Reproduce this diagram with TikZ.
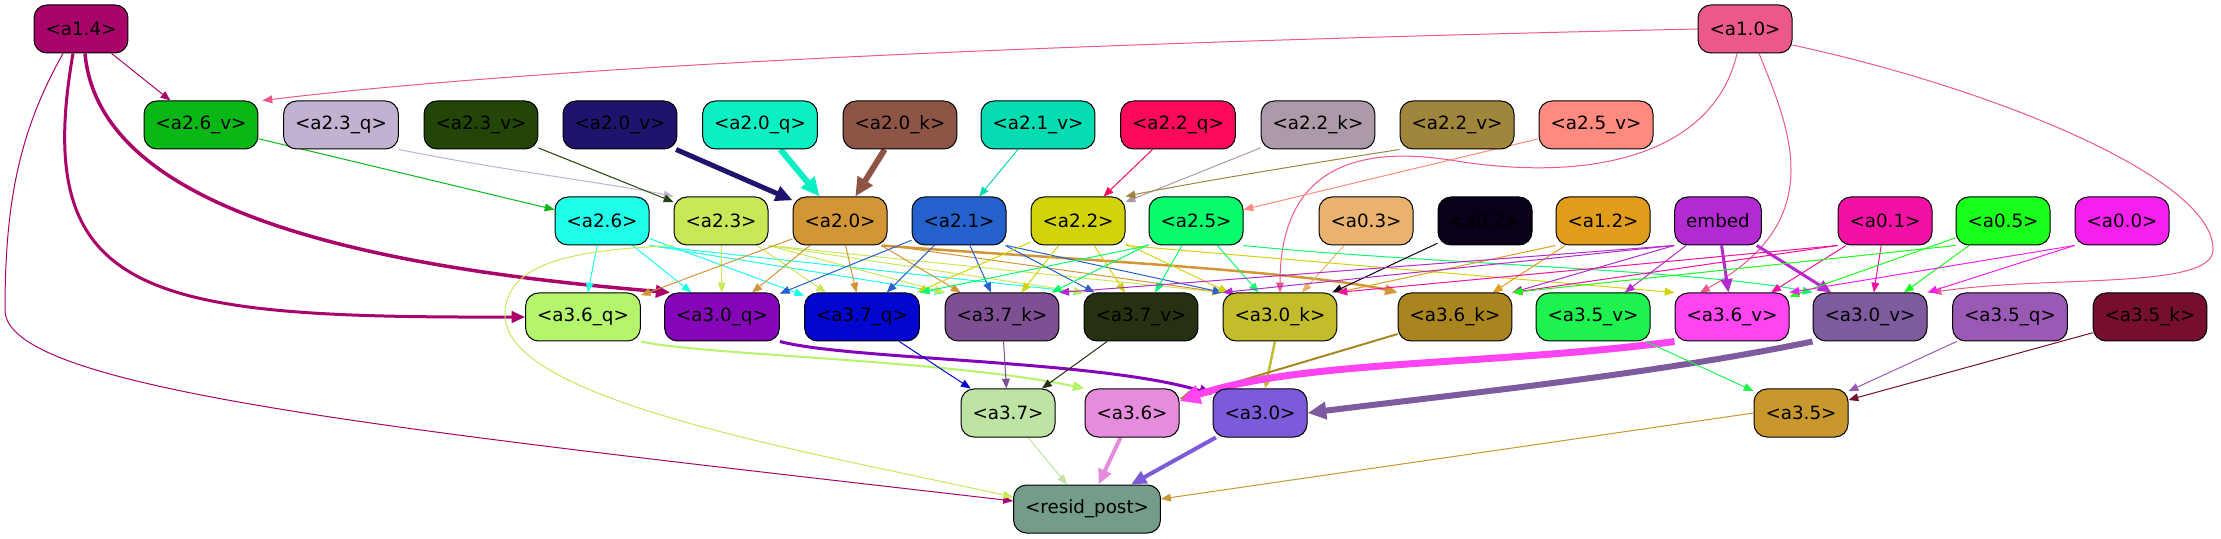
\documentclass[tikz,border=0pt]{standalone}
\usepackage{fontspec}
\setmainfont{DejaVu Sans}
\usetikzlibrary{arrows.meta,backgrounds}

\definecolor{c14}{RGB}{168,4,106}
\definecolor{c10}{RGB}{235,88,140}
\definecolor{c26v}{RGB}{11,183,22}
\definecolor{c23q}{RGB}{194,178,210}
\definecolor{c23v}{RGB}{35,69,7}
\definecolor{c20v}{RGB}{31,20,109}
\definecolor{c20q}{RGB}{11,240,195}
\definecolor{c20k}{RGB}{142,85,70}
\definecolor{c21v}{RGB}{5,220,178}
\definecolor{c22q}{RGB}{250,10,89}
\definecolor{c22k}{RGB}{172,154,168}
\definecolor{c22v}{RGB}{160,133,61}
\definecolor{c25v}{RGB}{255,138,127}
\definecolor{c26}{RGB}{30,254,232}
\definecolor{c23}{RGB}{200,232,88}
\definecolor{c20}{RGB}{211,150,54}
\definecolor{c21}{RGB}{37,97,204}
\definecolor{c22}{RGB}{210,211,10}
\definecolor{c25}{RGB}{8,253,108}
\definecolor{c03}{RGB}{234,178,111}
\definecolor{c02}{RGB}{10,0,25}
\definecolor{c12}{RGB}{224,156,26}
\definecolor{cembed}{RGB}{178,42,208}
\definecolor{c01}{RGB}{243,16,164}
\definecolor{c05}{RGB}{25,254,26}
\definecolor{c00}{RGB}{245,32,238}
\definecolor{c36q}{RGB}{180,245,107}
\definecolor{c30q}{RGB}{133,6,184}
\definecolor{c37q}{RGB}{3,6,206}
\definecolor{c37k}{RGB}{126,79,147}
\definecolor{c37v}{RGB}{38,49,17}
\definecolor{c30k}{RGB}{195,189,46}
\definecolor{c36k}{RGB}{169,133,32}
\definecolor{c35v}{RGB}{30,242,79}
\definecolor{c36v}{RGB}{255,68,242}
\definecolor{c30v}{RGB}{126,90,158}
\definecolor{c35q}{RGB}{154,89,181}
\definecolor{c35k}{RGB}{118,14,46}
\definecolor{c37}{RGB}{189,228,164}
\definecolor{c36}{RGB}{230,140,220}
\definecolor{c30}{RGB}{124,91,219}
\definecolor{c35}{RGB}{200,151,45}
\definecolor{crp}{RGB}{115,156,137}

\tikzset{
  box/.style={draw=black, line width=0.5pt, rounded corners=6.5pt,
    minimum height=24pt, inner xsep=5.75pt, inner ysep=0pt,
    font=\fontsize{9.15}{11}\selectfont},
  e/.style={-{Triangle[length=4pt 1.8, width=3pt 1.8]}, line width=0.5pt},
}

\begin{document}
\begin{tikzpicture}[x=0.5pt, y=-0.5pt]
        \useasboundingbox (0,0) rectangle (2221,539);

        % top row
        \node[box, fill=c14] (a14) at (81,29) {<a1.4>};
        \node[box, fill=c10] (a10) at (1745,29) {<a1.0>};

        % inputs of the second layer
        \node[box, fill=c26v] (a26v) at (201,125) {<a2.6\_v>};
        \node[box, fill=c23q] (a23q) at (341,125) {<a2.3\_q>};
        \node[box, fill=c23v] (a23v) at (481,125) {<a2.3\_v>};
        \node[box, fill=c20v] (a20v) at (620,125) {<a2.0\_v>};
        \node[box, fill=c20q] (a20q) at (760,125) {<a2.0\_q>};
        \node[box, fill=c20k] (a20k) at (900,125) {<a2.0\_k>};
        \node[box, fill=c21v] (a21v) at (1038,125) {<a2.1\_v>};
        \node[box, fill=c22q] (a22q) at (1178,125) {<a2.2\_q>};
        \node[box, fill=c22k] (a22k) at (1318,125) {<a2.2\_k>};
        \node[box, fill=c22v] (a22v) at (1457,125) {<a2.2\_v>};
        \node[box, fill=c25v] (a25v) at (1596,125) {<a2.5\_v>};

        % heads
        \node[box, fill=c26] (a26) at (602,221) {<a2.6>};
        \node[box, fill=c23] (a23) at (721,221) {<a2.3>};
        \node[box, fill=c20] (a20) at (840,221) {<a2.0>};
        \node[box, fill=c21] (a21) at (959,221) {<a2.1>};
        \node[box, fill=c22] (a22) at (1078,221) {<a2.2>};
        \node[box, fill=c25] (a25) at (1196,221) {<a2.5>};
        \node[box, fill=c03] (a03) at (1366,221) {<a0.3>};
        \node[box, fill=c02] (a02) at (1485,221) {<a0.2>};
        \node[box, fill=c12] (a12) at (1603,221) {<a1.2>};
        \node[box, fill=cembed] (embed) at (1718,221) {embed};
        \node[box, fill=c01] (a01) at (1885,221) {<a0.1>};
        \node[box, fill=c05] (a05) at (2003,221) {<a0.5>};
        \node[box, fill=c00] (a00) at (2122,221) {<a0.0>};

        % inputs of the third layer
        \node[box, fill=c36q] (a36q) at (583,317) {<a3.6\_q>};
        \node[box, fill=c30q] (a30q) at (722,317) {<a3.0\_q>};
        \node[box, fill=c37q] (a37q) at (862,317) {<a3.7\_q>};
        \node[box, fill=c37k] (a37k) at (1002,317) {<a3.7\_k>};
        \node[box, fill=c37v] (a37v) at (1141,317) {<a3.7\_v>};
        \node[box, fill=c30k] (a30k) at (1280,317) {<a3.0\_k>};
        \node[box, fill=c36k] (a36k) at (1455,317) {<a3.6\_k>};
        \node[box, fill=c35v] (a35v) at (1593,317) {<a3.5\_v>};
        \node[box, fill=c36v] (a36v) at (1732,317) {<a3.6\_v>};
        \node[box, fill=c30v] (a30v) at (1870,317) {<a3.0\_v>};
        \node[box, fill=c35q] (a35q) at (2010,317) {<a3.5\_q>};
        \node[box, fill=c35k] (a35k) at (2150,317) {<a3.5\_k>};

        \node[box, fill=c37] (a37) at (1008,413) {<a3.7>};
        \node[box, fill=c36] (a36) at (1132,413) {<a3.6>};
        \node[box, fill=c30] (a30) at (1260,413) {<a3.0>};
        \node[box, fill=c35] (a35) at (1801,413) {<a3.5>};

        \node[box, fill=crp] (rp) at (1087,509) {<resid\_post>};

        \begin{pgfonlayer}{background}
        \fill[white] (0,0) rectangle (2221,539);

        % from the first layer
        \draw[e, c14] (a14) -- (a26v);
        \draw[e, c14, line width=1.5pt] ([xshift=-4pt]a14.south) .. controls (30,300) and (150,318) .. (a36q.west);
        \draw[e, c14, line width=1.75pt] ([xshift=2pt]a14.south) .. controls (100,220) and (400,270) .. ([xshift=3pt]a30q.north west);
        \draw[e, c14] ([xshift=-9pt]a14.south) .. controls (20,130) and (5,200) .. (5,310) .. controls (5,390) and (400,430) .. ([yshift=4pt]rp.west);
        \draw[e, c10] (a10.west) .. controls (1200,40) and (600,60) .. ([xshift=2pt]a26v.north east);
        \draw[e, c10] ([xshift=-4pt]a10.south) .. controls (1715,150) and (1600,185) .. (1450,160) .. controls (1320,140) and (1280,200) .. (a30k.north);
        \draw[e, c10] ([xshift=7pt]a10.south) .. controls (1790,130) and (1830,220) .. ([xshift=-16pt]a36v.north);
        \draw[e, c10] ([yshift=-8pt]a10.east) .. controls (2000,90) and (2215,180) .. (2213,250) .. controls (2212,290) and (2050,275) .. ([xshift=2pt]a30v.north east);

        % into the heads
        \draw[e, c26v] (a26v) -- (a26);
        \draw[e, c23q] (a23q.south east) .. controls (500,170) and (620,185) .. (a23.north west);
        \draw[e, c23v] (a23v) -- (a23);
        \draw[e, c20v, line width=2.5pt] (a20v) -- (a20);
        \draw[e, c20q, line width=3pt] (a20q) -- (a20);
        \draw[e, c20k, line width=3pt] (a20k) -- (a20);
        \draw[e, c21v] (a21v) -- (a21);
        \draw[e, c22q] (a22q) -- (a22);
        \draw[e, c22k] (a22k) -- (a22);
        \draw[e, c22v] (a22v.south west) .. controls (1300,165) and (1180,185) .. (a22.north east);
        \draw[e, c25v] (a25v) -- (a25);

        % heads to the third layer
        \draw[e, c26] (a26) -- (a36q);
        \draw[e, c26] (a26) -- (a30q);
        \draw[e, c26] (a26) -- (a37q);
        \draw[e, c26] (a26.south east) -- (a37k.north west);
        \draw[e, c26] (a26.south east) -- (a37v.north west);
        \draw[e, c23] (a23) -- (a30q);
        \draw[e, c23] (a23) -- (a37q);
        \draw[e, c23] (a23.south east) -- (a37k.north west);
        \draw[e, c23] (a23.south east) -- (a37v.north west);
        \draw[e, c23] (a23.south east) -- (a30k.north west);
        \draw[e, c23] (a23.south west) .. controls (580,250) and (505,260) .. (505,315) .. controls (505,400) and (800,450) .. ([yshift=6pt]rp.west);
        \draw[e, c20] (a20) -- (a36q);
        \draw[e, c20] (a20) -- (a30q);
        \draw[e, c20] (a20) -- (a37q);
        \draw[e, c20] (a20) -- (a37k);
        \draw[e, c20] (a20.south east) -- (a30k.north west);
        \draw[e, c20, line width=1.25pt] ([xshift=-3pt]a20.south east) .. controls (1000,255) and (1300,270) .. (a36k.north west);
        \draw[e, c21] (a21) -- (a30q);
        \draw[e, c21] (a21) -- (a37q);
        \draw[e, c21] (a21) -- (a37k);
        \draw[e, c21] (a21) -- (a37v);
        \draw[e, c21] (a21.south east) -- (a30k.north west);
        \draw[e, c22] (a22) -- (a37q);
        \draw[e, c22] (a22) -- (a37k);
        \draw[e, c22] (a22) -- (a37v);
        \draw[e, c22] (a22) -- (a30k);
        \draw[e, c22] (a22.south east) -- (a36v.north west);
        \draw[e, c25] (a25.south west) -- (a37q.north east);
        \draw[e, c25] (a25) -- (a37k);
        \draw[e, c25] (a25) -- (a37v);
        \draw[e, c25] (a25) -- (a30k);
        \draw[e, c25] (a25.south east) .. controls (1400,262) and (1700,270) .. (a30v.north west);
        \draw[e, c03] (a03) -- (a30k);
        \draw[e, c02] (a02) -- (a30k);
        \draw[e, c12] (a12) -- (a36k);
        \draw[e, c12] (a12.south west) -- (a30k.north east);
        \draw[e, cembed] (embed.south west) -- (a36k.north east);
        \draw[e, cembed] (embed.south west) -- (a37k.north east);
        \draw[e, cembed] (embed.south west) -- (a30k.north west);
        \draw[e, cembed] (embed) -- (a35v);
        \draw[e, cembed, line width=1.5pt] (embed) -- (a36v);
        \draw[e, cembed, line width=1.5pt] (embed) -- (a30v);
        \draw[e, c01] (a01.south west) -- (a36k.north east);
        \draw[e, c01] (a01.south west) -- (a30k.north east);
        \draw[e, c01] (a01) -- (a36v);
        \draw[e, c01] (a01) -- (a30v);
        \draw[e, c05] (a05) -- (a30v);
        \draw[e, c05] (a05) -- (a36v);
        \draw[e, c05] (a05.south west) -- (a36k.north east);
        \draw[e, c00] (a00.south west) -- (a36v.north east);
        \draw[e, c00] (a00.south west) -- (a30v.north east);

        % third layer
        \draw[e, c36q, line width=1pt] (a36q.south east) .. controls (700,355) and (950,360) .. (a36.north west);
        \draw[e, c30q, line width=1.5pt] (a30q.south east) .. controls (850,360) and (1100,360) .. ([yshift=-3pt]a30.north west);
        \draw[e, c37q] (a37q) -- (a37);
        \draw[e, c37k] (a37k) -- (a37);
        \draw[e, c37v] (a37v) -- (a37);
        \draw[e, c30k, line width=1.25pt] (a30k) -- (a30);
        \draw[e, c36k, line width=1pt] (a36k) -- (a36);
        \draw[e, c36v, line width=3.5pt] (a36v.south west) .. controls (1500,365) and (1300,360) .. ([yshift=6pt]a36.east);
        \draw[e, c30v, line width=3pt] (a30v.south west) .. controls (1650,375) and (1450,395) .. (a30.east);
        \draw[e, c35v] (a35v) -- (a35);
        \draw[e, c35q] (a35q) -- (a35);
        \draw[e, c35k] (a35k) -- (a35);

        % into resid_post
        \draw[e, c37] (a37) -- (rp);
        \draw[e, c36, line width=2pt] (a36) -- (rp);
        \draw[e, c30, line width=2pt] (a30) -- (rp);
        \draw[e, c35] (a35.west) -- ([yshift=5pt]rp.east);
        \end{pgfonlayer}
    \end{tikzpicture}
\end{document}
